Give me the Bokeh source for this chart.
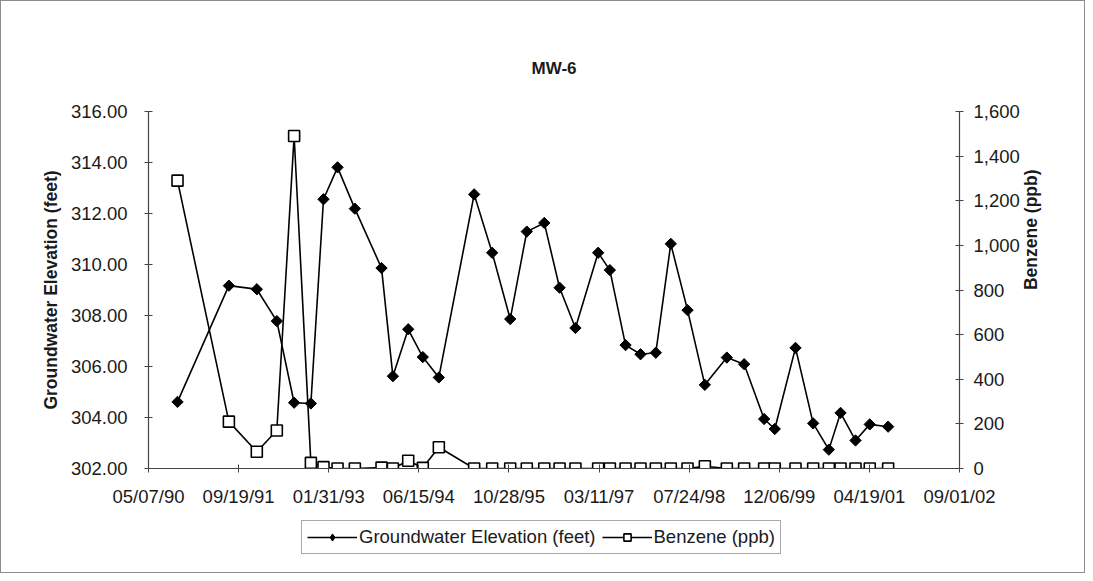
import datetime as dt
import numpy as np
from bokeh.plotting import figure
from bokeh.layouts import column
from bokeh.models import (Range1d, LinearAxis, FixedTicker, NumeralTickFormatter,
                          DatetimeTickFormatter, Legend, LegendItem, Title)
from bokeh.embed import file_html
from bokeh.resources import INLINE

# ---------------- data ----------------
sample_dates = [
    "1990-10-15", "1991-07-27", "1991-12-29", "1992-04-18", "1992-07-23",
    "1992-10-24", "1993-01-02", "1993-03-21", "1993-06-25", "1993-11-20",
    "1994-01-22", "1994-04-17", "1994-07-07", "1994-10-04", "1995-04-18",
    "1995-07-27", "1995-11-04", "1996-02-04", "1996-05-11", "1996-08-04",
    "1996-10-31", "1997-03-06", "1997-05-10", "1997-08-05", "1997-10-27",
    "1998-01-20", "1998-04-13", "1998-07-15", "1998-10-19", "1999-02-18",
    "1999-05-25", "1999-09-13", "1999-11-11", "2000-03-05", "2000-06-11",
    "2000-09-06", "2000-11-10", "2001-02-01", "2001-04-21", "2001-08-01",
]
groundwater_elev = [
    304.61, 309.17, 309.03, 307.78, 304.58, 304.55, 312.56, 313.81, 312.19, 309.86,
    305.62, 307.46, 306.37, 305.57, 312.75, 310.46, 307.86, 311.29, 311.63, 309.09,
    307.51, 310.46, 309.78, 306.84, 306.48, 306.54, 310.81, 308.21, 305.28, 306.35,
    306.09, 303.94, 303.55, 306.73, 303.77, 302.74, 304.18, 303.10, 303.73, 303.64,
]
benzene_ppb = [
    1290, 210, 75, 170, 1490, 25, 6, 0, 0, 4,
    0, 35, 3, 95, 0, 0, 0, 0, 0, 0,
    0, 0, 0, 0, 0, 0, 0, 0, 10, 0,
    0, 0, 0, 0, 0, 0, 0, 0, 0, 0,
]
x_tick_dates = ["1990-05-07", "1991-09-19", "1993-01-31", "1994-06-15", "1995-10-28",
                "1997-03-11", "1998-07-24", "1999-12-06", "2001-04-19", "2002-09-01"]
left_ticks = [302, 304, 306, 308, 310, 312, 314, 316]
right_ticks = [0, 200, 400, 600, 800, 1000, 1200, 1400, 1600]
series_names = ["Groundwater Elevation (feet)", "Benzene (ppb)"]
chart_title = "MW-6"

# ---------------- helpers ----------------
EPOCH = dt.datetime(1970, 1, 1)


def to_dt(s):
    return dt.datetime.strptime(s, "%Y-%m-%d")


def to_ms(s):
    return (to_dt(s) - EPOCH).total_seconds() * 1000.0


xs = [to_dt(s) for s in sample_dates]
xticks_ms = [to_ms(s) for s in x_tick_dates]

FONT = "Liberation Sans"
INK = "#1a1a1a"
W = 1083

p = figure(width=W, height=510, x_axis_type="datetime", title=None,
           x_range=Range1d(xticks_ms[0], xticks_ms[-1]),
           y_range=Range1d(left_ticks[0], left_ticks[-1]),
           output_backend="svg", toolbar_location=None,
           min_border_left=147, min_border_right=125,
           min_border_top=110, min_border_bottom=43,
           background_fill_color="white", border_fill_color="white")
p.extra_y_ranges = {"benz": Range1d(right_ticks[0], right_ticks[-1])}
p.grid.visible = False
p.outline_line_color = None

# title: a blank spacer title next to the frame, then the real title above it
p.add_layout(Title(text=" ", text_font_size="24px", standoff=0), "above")
p.add_layout(Title(text=chart_title, align="center", text_font=FONT,
                   text_font_size="17px", text_font_style="bold",
                   text_color=INK), "above")


def style_axis(ax):
    ax.axis_line_color = "#444444"
    ax.axis_line_width = 1.2
    ax.major_tick_line_color = "#444444"
    ax.major_tick_in = 4
    ax.major_tick_out = 4
    ax.minor_tick_line_color = None
    ax.major_label_text_font = FONT
    ax.major_label_text_font_size = "18.5px"
    ax.major_label_text_color = INK
    ax.axis_label_text_font = FONT
    ax.axis_label_text_font_size = "17.5px"
    ax.axis_label_text_font_style = "bold"
    ax.axis_label_text_color = INK


# x axis
xa = p.xaxis[0]
style_axis(xa)
xa.ticker = FixedTicker(ticks=xticks_ms)
xa.formatter = DatetimeTickFormatter(days="%m/%d/%y", months="%m/%d/%y",
                                     years="%m/%d/%y", hours="%m/%d/%y")
xa.major_label_standoff = 13

# left axis
ya = p.yaxis[0]
style_axis(ya)
ya.ticker = FixedTicker(ticks=left_ticks)
ya.formatter = NumeralTickFormatter(format="0.00")
ya.axis_label = series_names[0]
ya.major_label_standoff = 17
ya.axis_label_standoff = 7

# right axis
ra = LinearAxis(y_range_name="benz")
style_axis(ra)
ra.ticker = FixedTicker(ticks=right_ticks)
ra.formatter = NumeralTickFormatter(format="0,0")
ra.axis_label = series_names[1]
ra.axis_label_orientation = np.pi / 2
ra.major_label_standoff = 10
ra.axis_label_standoff = 8
p.add_layout(ra, "right")

GW_LINE = dict(line_color="black", line_width=1.6)
GW_MARK = dict(marker="square", angle=np.pi / 4, size=8, fill_color="black",
               line_color="black", line_width=1)
BZ_LINE = dict(line_color="black", line_width=1.6)
BZ_MARK = dict(marker="square", size=11, fill_color="white", line_color="black",
               line_width=1.6)

# series
p.line(xs, groundwater_elev, **GW_LINE)
p.scatter(xs, groundwater_elev, **GW_MARK)
p.line(xs, benzene_ppb, y_range_name="benz", **BZ_LINE)
p.scatter(xs, benzene_ppb, y_range_name="benz", **BZ_MARK)

# ---------------- legend strip (separate figure below the chart) ----------------
lp = figure(width=W, height=61, x_range=Range1d(0, 1), y_range=Range1d(0, 1),
            output_backend="svg", toolbar_location=None,
            min_border=0, background_fill_color="white", border_fill_color="white")
lp.axis.visible = False
lp.grid.visible = False
lp.outline_line_color = None
# glyphs for the legend only (their data lies far outside this strip's ranges)
l1 = lp.line(xs, groundwater_elev, **GW_LINE)
m1 = lp.scatter(xs, groundwater_elev, marker="diamond", size=11, fill_color="black",
                line_color="black", line_width=1)
l2 = lp.line(xs, benzene_ppb, **BZ_LINE)
m2 = lp.scatter(xs, benzene_ppb, **BZ_MARK)

legend = Legend(items=[
    LegendItem(label=series_names[0], renderers=[l1, m1]),
    LegendItem(label=series_names[1], renderers=[l2, m2]),
], location=(153, 18), orientation="horizontal")
legend.label_text_font = FONT
legend.label_text_font_size = "18.5px"
legend.label_text_color = INK
legend.glyph_width = 50
legend.glyph_height = 18
legend.label_standoff = 2
legend.spacing = 6
legend.padding = 5
legend.margin = 0
legend.border_line_color = "#555555"
legend.border_line_width = 1
legend.background_fill_color = "white"
legend.background_fill_alpha = 1
lp.add_layout(legend)

layout = column(p, lp, spacing=0)
layout.styles = {"border": "1px solid #8c8c8c"}

open("out.html", "w").write(file_html(layout, INLINE))
